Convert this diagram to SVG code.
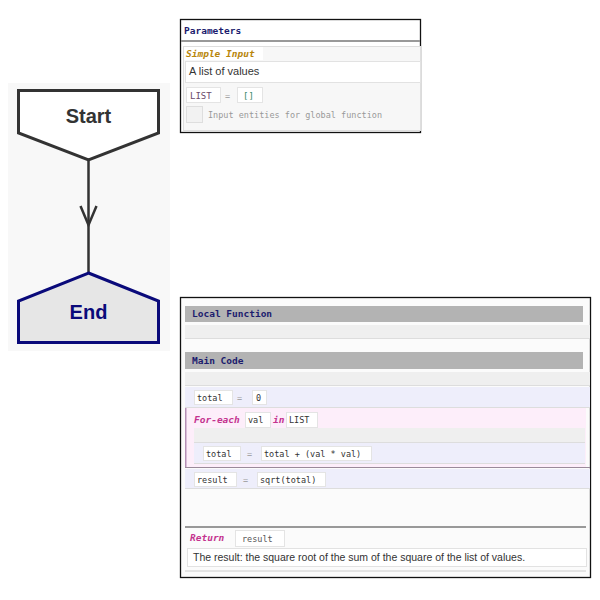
<svg xmlns="http://www.w3.org/2000/svg" width="600" height="600" viewBox="0 0 600 600">
<defs>
<style>
.hdr{font-family:"DejaVu Sans Mono","Liberation Mono",monospace;font-size:9.5px;font-weight:bold;fill:#1c1c6e}
.code{font-family:"DejaVu Sans Mono","Liberation Mono",monospace;font-size:8.5px;fill:#333}
.kw{font-family:"DejaVu Sans Mono","Liberation Mono",monospace;font-size:9.5px;font-weight:bold;font-style:italic;fill:#c4338f}
.eq{font-family:"DejaVu Sans Mono","Liberation Mono",monospace;font-size:8.5px;fill:#999}
.tok{fill:#fff;stroke:#e4e4e4;stroke-width:1}
.bar{fill:#b3b3b3}
.band{fill:#efefef}
.row{fill:#eeeefb}
.sans{font-family:"Liberation Sans",Arial,sans-serif}
</style>
</defs>
<rect width="600" height="600" fill="#fff"/>

<!-- flowchart -->
<rect x="8" y="83" width="162" height="268" fill="#f8f8f8"/>
<g id="connectors">
<line x1="88.5" y1="160" x2="88.5" y2="273" stroke="#333" stroke-width="2.5"/>
<polyline points="80.5,206 88.5,225 96.5,206" fill="none" stroke="#333" stroke-width="2.5"/>
</g>
<g id="node-start">
<polygon points="18.5,90.5 158.5,90.5 158.5,133 88.5,160 18.5,133" fill="#fff" stroke="#333" stroke-width="3"/>
<text x="88.5" y="123" text-anchor="middle" class="sans" font-size="20" font-weight="bold" fill="#333">Start</text>
</g>
<g id="node-end">
<polygon points="88.5,273 158.5,301 158.5,342.5 18.5,342.5 18.5,301" fill="#e6e6e6" stroke="#0a0a7a" stroke-width="3"/>
<text x="88.5" y="319" text-anchor="middle" class="sans" font-size="20" font-weight="bold" fill="#0a0a7a">End</text>
</g>

<!-- parameters panel -->
<g id="node-parameters">
<rect x="180.5" y="19.5" width="240" height="113" fill="#fff" stroke="#111" stroke-width="1.3"/>
<text x="184" y="34" class="hdr">Parameters</text>
<line x1="181" y1="41" x2="420" y2="41" stroke="#999" stroke-width="2"/>
<rect x="183.5" y="46.5" width="237" height="84" fill="#f7f7f7" stroke="#dedede"/>
<rect x="184" y="47" width="79" height="13" fill="#fff"/>
<text x="186" y="57" class="kw" style="fill:#b8860b">Simple Input</text>
<rect x="185.5" y="61.5" width="235" height="21" fill="#fff" stroke="#e2e2e2"/>
<text x="189" y="75" class="sans" font-size="11" fill="#333">A list of values</text>
<rect x="186.5" y="87.5" width="34" height="15" class="tok"/>
<text x="190" y="98.5" class="code" style="font-size:9px;fill:#6b4a6b">LIST</text>
<text x="225" y="98.5" class="eq">=</text>
<rect x="237.5" y="87.5" width="25" height="15" class="tok"/>
<text x="243" y="98.5" class="code" style="font-size:9px;fill:#3a8a6a">[]</text>
<rect x="186.5" y="106.5" width="16" height="16" fill="#f2f2f2" stroke="#dedede"/>
<text x="208" y="118" class="code" style="fill:#999">Input entities for global function</text>
</g>

<!-- main code panel -->
<g id="node-main">
<rect x="180.5" y="297.5" width="410" height="280" fill="#fbfbfb" stroke="#111" stroke-width="1.3"/>
<rect x="185" y="306" width="398" height="16" class="bar"/>
<text x="192" y="317" class="hdr">Local Function</text>
<rect x="185" y="325" width="405" height="13" class="band"/>
<line x1="185" y1="338.5" x2="590" y2="338.5" stroke="#ddd"/>
<rect x="185" y="352" width="398" height="17" class="bar"/>
<text x="192" y="363.5" class="hdr">Main Code</text>
<rect x="185" y="372" width="405" height="13" class="band"/>
<line x1="185" y1="385.5" x2="590" y2="385.5" stroke="#ddd"/>

<rect x="185" y="387" width="405" height="20" class="row"/>
<line x1="185" y1="407.5" x2="590" y2="407.5" stroke="#ddd"/>
<rect x="194.5" y="390.5" width="38" height="14" class="tok"/>
<text x="197" y="400.5" class="code">total</text>
<text x="237" y="400.5" class="eq">=</text>
<rect x="252.5" y="390.5" width="14" height="14" class="tok"/>
<text x="256" y="400.5" class="code">0</text>

<rect x="185" y="408" width="401" height="59" fill="#fdeefa"/>
<line x1="185.75" y1="408" x2="185.75" y2="467" stroke="#b58fb5" stroke-width="1.5"/>
<line x1="185" y1="467.5" x2="590" y2="467.5" stroke="#9a8a9a" stroke-width="1"/>
<text x="194" y="423" class="kw">For-each</text>
<rect x="245.5" y="412.5" width="25" height="15" class="tok"/>
<text x="248" y="423" class="code">val</text>
<text x="273" y="423" class="kw">in</text>
<rect x="286.5" y="412.5" width="31" height="15" class="tok"/>
<text x="289" y="423" class="code">LIST</text>
<rect x="194" y="428" width="391" height="14" class="band"/>
<line x1="194" y1="442.5" x2="585" y2="442.5" stroke="#ddd"/>
<rect x="194" y="443" width="391" height="20" class="row"/>
<line x1="194" y1="463.5" x2="585" y2="463.5" stroke="#ddd"/>
<rect x="203.5" y="446.5" width="37" height="14" class="tok"/>
<text x="206" y="456.5" class="code">total</text>
<text x="247" y="456.5" class="eq">=</text>
<rect x="261.5" y="446.5" width="110" height="14" class="tok"/>
<text x="264" y="456.5" class="code">total + (val * val)</text>

<rect x="185" y="469" width="405" height="19" class="row"/>
<line x1="185" y1="488.5" x2="590" y2="488.5" stroke="#ddd"/>
<rect x="194.5" y="472.5" width="42" height="14" class="tok"/>
<text x="197" y="482.5" class="code">result</text>
<text x="243" y="482.5" class="eq">=</text>
<rect x="257.5" y="472.5" width="68" height="14" class="tok"/>
<text x="260" y="482.5" class="code">sqrt(total)</text>

<line x1="185" y1="527" x2="586" y2="527" stroke="#999" stroke-width="2"/>
<text x="190" y="541" class="kw">Return</text>
<rect x="235.5" y="530.5" width="49" height="16" class="tok"/>
<text x="242" y="541.5" class="code" style="fill:#555">result</text>
<rect x="187.5" y="548.5" width="399" height="18" fill="#fff" stroke="#e2e2e2"/>
<text x="193" y="561" class="sans" font-size="10.5" fill="#333">The result: the square root of the sum of the square of the list of values.</text>
<line x1="185" y1="571" x2="586" y2="571" stroke="#ccc"/>
</g>
</svg>
